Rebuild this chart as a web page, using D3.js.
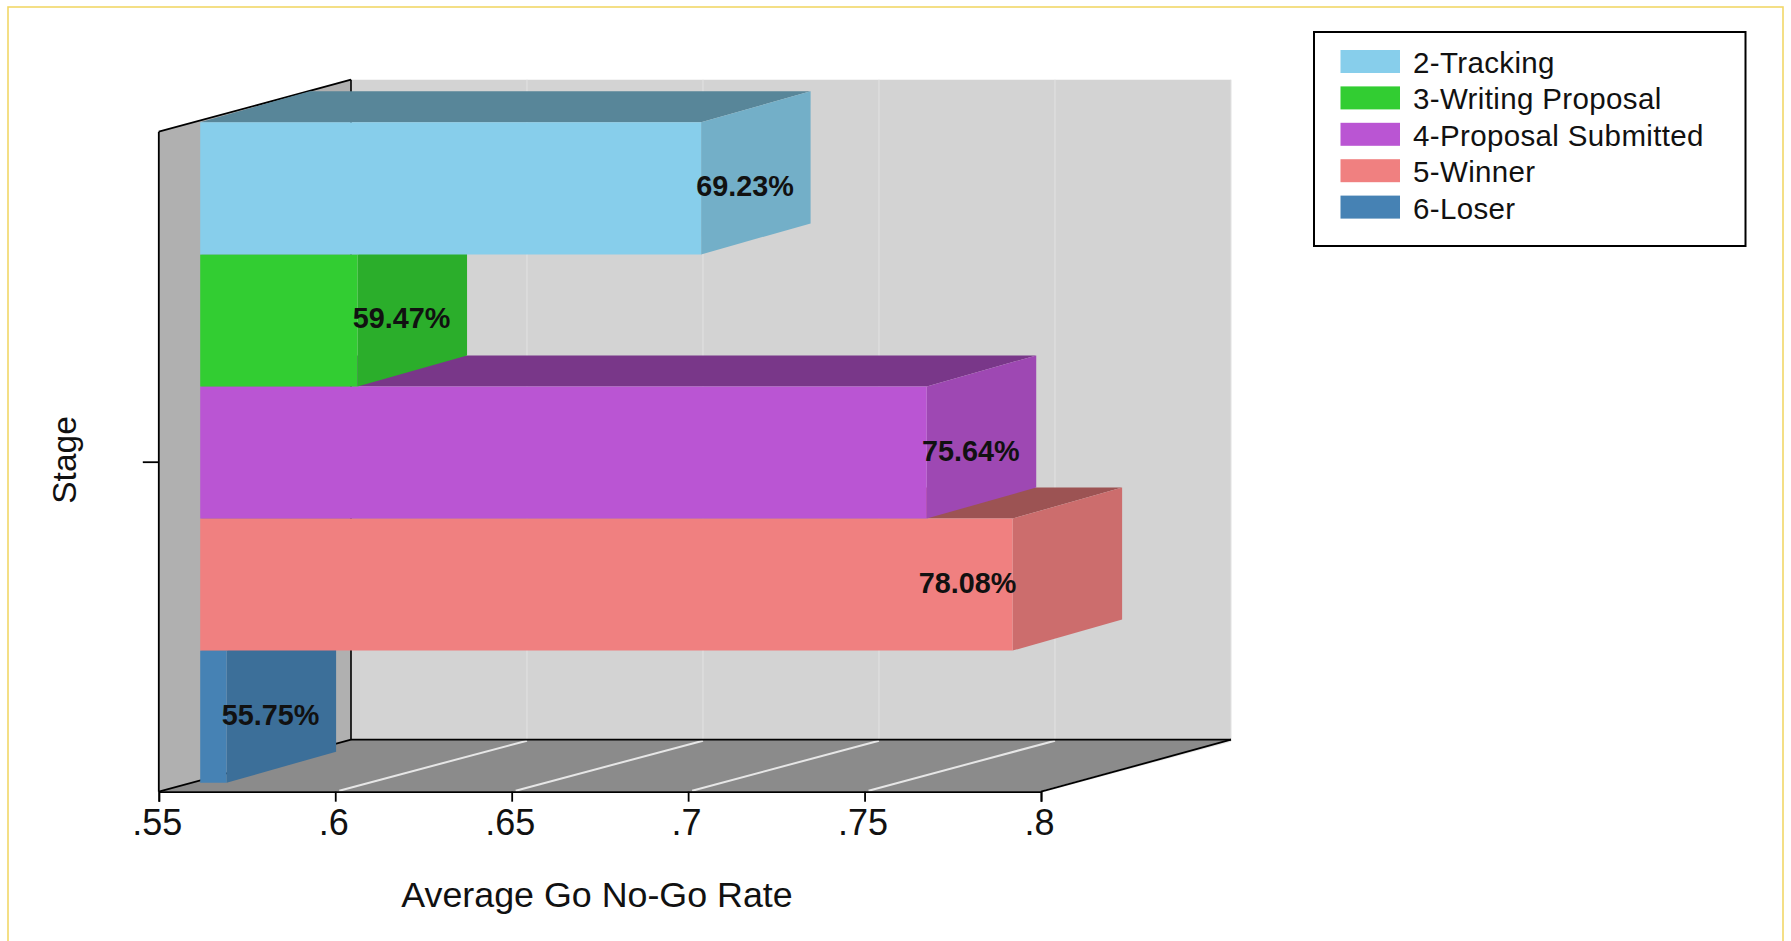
<!DOCTYPE html>
<html>
<head>
<meta charset="utf-8">
<script src="https://cdn.jsdelivr.net/npm/d3@7"></script>
<style>
html,body{margin:0;padding:0;background:#fff;overflow:hidden}
text{font-family:"Liberation Sans",Arial,sans-serif;fill:#111}
</style>
</head>
<body>
<svg id="c" width="1791" height="941"></svg>
<script>
const categories = ["2-Tracking","3-Writing Proposal","4-Proposal Submitted","5-Winner","6-Loser"];
const values = [0.6923,0.5947,0.7564,0.7808,0.5575];
const colors = ["#87CEEB","#32CD32","#BA55D3","#F08080","#4682B4"];
const xTicks = [0.55,0.6,0.65,0.7,0.75,0.8];
const xTitle = "Average Go No-Go Rate";
const yTitle = "Stage";

const svg = d3.select("#c");
const poly = (pts,fill) => svg.append("polygon").attr("points",pts.map(p=>p.join(",")).join(" ")).attr("fill",fill);
const line = (x1,y1,x2,y2,stroke,w) => svg.append("line").attr("x1",x1).attr("y1",y1).attr("x2",x2).attr("y2",y2).attr("stroke",stroke).attr("stroke-width",w);

// frame
svg.append("rect").attr("x",8).attr("y",7).attr("width",1775).attr("height",960)
  .attr("fill","#fff").attr("stroke","#f2d868").attr("stroke-width",1.6);

// geometry: three planes of the box share one domain
const L=158.8,R=1041,T=131.7,B=791.7;
const backDy=-52;
const domain=[0.55,0.8];
const x=d3.scaleLinear().domain(domain).range([L,R]);          // front plane
const xBack=d3.scaleLinear().domain(domain).range([351,1231]); // back wall
const xBar=d3.scaleLinear().domain(domain).range([200.2,1080.2]); // bar front faces
const depth={dx:109.5,dy:-31};
const y=d3.scaleBand().domain(categories).range([122.3,782.7]);
const fmt=d=>String(+d.toFixed(2)).replace(/^0/,"");
const shade=(c,k)=>{const r=d3.rgb(c);return d3.rgb(r.r*k,r.g*k,r.b*k).formatHex();};

// walls
poly([[xBack(domain[0]),T+backDy],[xBack(domain[1]),T+backDy],[xBack(domain[1]),B+backDy],[xBack(domain[0]),B+backDy]],"#d3d3d3");
poly([[L,B],[R,B],[xBack(domain[1]),B+backDy],[xBack(domain[0]),B+backDy]],"#8b8b8b");
poly([[L,T],[xBack(domain[0]),T+backDy],[xBack(domain[0]),B+backDy],[L,B]],"#b0b0b0");

// grid
xTicks.slice(1).forEach(t=>{
  line(xBack(t),T+backDy,xBack(t),B+backDy,"#e2e2e2",1);
  line(x(t)+4,B-1,xBack(t),B+backDy+1,"#e6e6e6",2);
});

// frame lines
const k="#000", bx=xBack(domain[0]), rx=xBack(domain[1]);
line(bx,T+backDy,bx,B+backDy,k,1.6);
line(L,T,bx,T+backDy,k,1.8);
line(L,B,bx,B+backDy,k,1.8);
line(bx,B+backDy,rx,B+backDy,k,1.8);
line(R,B,rx,B+backDy,k,1.8);

// bars, painted from the bottom up so upper bars overlap lower ones
const rows=categories.map((c,i)=>({c,v:values[i],col:colors[i]}));
rows.slice().reverse().forEach(d=>{
  const x0=xBar(domain[0]), x1=xBar(d.v), y0=y(d.c), y1=y0+y.bandwidth();
  poly([[x0,y0],[x0+depth.dx,y0+depth.dy],[x1+depth.dx,y0+depth.dy],[x1,y0]],shade(d.col,0.65));
  poly([[x1,y0],[x1+depth.dx,y0+depth.dy],[x1+depth.dx,y1+depth.dy],[x1,y1]],shade(d.col,0.85));
  poly([[x0,y0],[x1,y0],[x1,y1],[x0,y1]],d.col);
});

// data labels
rows.forEach(d=>{
  const x1=xBar(d.v);
  const lx=d.v>0.77?x1-45:x1+44;
  svg.append("text").attr("x",lx).attr("y",y(d.c)+y.bandwidth()/2+8)
    .attr("text-anchor","middle").attr("font-size",28.8).attr("font-weight","bold")
    .text((d.v*100).toFixed(2)+"%");
});

// axes
const ax=d3.axisBottom(x).tickValues(xTicks).tickFormat(fmt).tickSize(10).tickPadding(10);
const gx=svg.append("g").attr("transform",`translate(0,${B})`).call(ax);
gx.selectAll("path,line").attr("stroke","#000").attr("stroke-width",1.8);
gx.selectAll("text").attr("font-size",36).attr("dx",-2).attr("dy","0.65em").style("font-family",'"Liberation Sans",Arial,sans-serif').attr("fill","#111");

const ay=d3.axisLeft(d3.scalePoint().domain([yTitle]).range([(T+B)/2,(T+B)/2])).tickFormat("").tickSize(16);
const gy=svg.append("g").attr("transform",`translate(${L},0)`).call(ay);
gy.select("path").attr("d",`M0,${T}V${B}`);
gy.selectAll("path,line").attr("stroke","#000").attr("stroke-width",1.8);

svg.append("text").attr("x",597).attr("y",907).attr("text-anchor","middle").attr("font-size",35.8).text(xTitle);
svg.append("text").attr("transform","translate(76,460) rotate(-90)").attr("text-anchor","middle").attr("font-size",33.5).text(yTitle);

// legend
svg.append("rect").attr("x",1314).attr("y",32).attr("width",431.5).attr("height",214)
  .attr("fill","#fff").attr("stroke","#000").attr("stroke-width",2);
rows.forEach((d,i)=>{
  const ly=50+i*36.4;
  svg.append("rect").attr("x",1340.5).attr("y",ly).attr("width",59.5).attr("height",23).attr("fill",d.col);
  svg.append("text").attr("x",1413).attr("y",ly+23).attr("font-size",29.5).attr("letter-spacing",0.36).text(d.c);
});
</script>
</body>
</html>
